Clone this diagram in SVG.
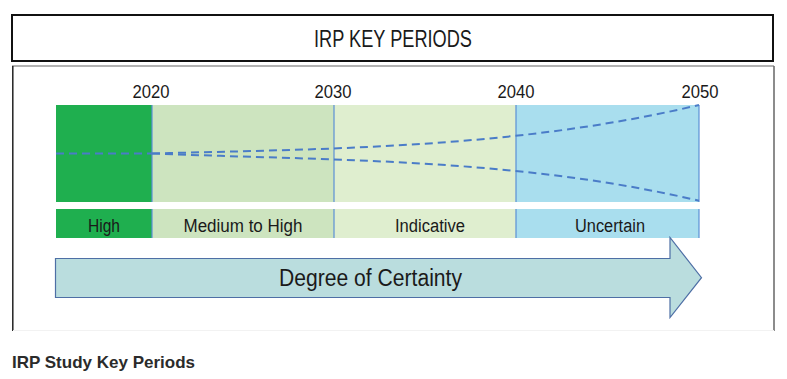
<svg xmlns="http://www.w3.org/2000/svg" width="787" height="379" viewBox="0 0 787 379">
<style>
text{font-family:"Liberation Sans",Arial,sans-serif;fill:#1a1a1a}
.yr{font-size:18px;text-anchor:middle}
.lbl{font-size:18px;text-anchor:middle}
.sep{stroke:#5B8FD6;stroke-width:1.2}
.dash{fill:none;stroke:#4A7CC8;stroke-width:2;stroke-dasharray:8 5}
</style>
<rect width="787" height="379" fill="#fff"/>
<g id="title">
<rect x="12" y="15" width="761" height="46" fill="#fff" stroke="#111" stroke-width="2"/>
<text x="393" y="47" font-size="24" text-anchor="middle" textLength="158" lengthAdjust="spacingAndGlyphs">IRP KEY PERIODS</text>
</g>
<g id="frame">
<line x1="12" y1="66" x2="774" y2="66" stroke="#999" stroke-width="1.5"/>
<line x1="12.8" y1="66" x2="12.8" y2="331" stroke="#222" stroke-width="1.5"/>
<line x1="774" y1="66" x2="774" y2="331" stroke="#666" stroke-width="1.5"/>
<line x1="13" y1="330.5" x2="774" y2="330.5" stroke="#f2f2f2" stroke-width="1"/>
</g>
<g id="years">
<text class="yr" x="151" y="98" textLength="37" lengthAdjust="spacingAndGlyphs">2020</text>
<text class="yr" x="333" y="98" textLength="37" lengthAdjust="spacingAndGlyphs">2030</text>
<text class="yr" x="516" y="98" textLength="37" lengthAdjust="spacingAndGlyphs">2040</text>
<text class="yr" x="700" y="98" textLength="37" lengthAdjust="spacingAndGlyphs">2050</text>
</g>
<g id="period-high">
<rect x="56" y="105" width="96" height="97" fill="#1FAF4F"/>
<rect x="56" y="209" width="96" height="29" fill="#1FAF4F"/>
<text class="lbl" x="104" y="232" textLength="32" lengthAdjust="spacingAndGlyphs">High</text>
</g>
<g id="period-medium">
<rect x="152" y="105" width="182" height="97" fill="#CDE4BF"/>
<rect x="152" y="209" width="182" height="29" fill="#CDE4BF"/>
<text class="lbl" x="243" y="232" textLength="119" lengthAdjust="spacingAndGlyphs">Medium to High</text>
</g>
<g id="period-indicative">
<rect x="334" y="105" width="182" height="97" fill="#DFEECF"/>
<rect x="334" y="209" width="182" height="29" fill="#DFEECF"/>
<text class="lbl" x="430" y="232" textLength="70" lengthAdjust="spacingAndGlyphs">Indicative</text>
</g>
<g id="period-uncertain">
<rect x="516" y="105" width="183" height="97" fill="#A9DEEE"/>
<rect x="516" y="209" width="183" height="29" fill="#A9DEEE"/>
<text class="lbl" x="610" y="232" textLength="70" lengthAdjust="spacingAndGlyphs">Uncertain</text>
</g>
<g id="connectors">
<line class="sep" x1="152" y1="105" x2="152" y2="202"/>
<line class="sep" x1="334" y1="105" x2="334" y2="202"/>
<line class="sep" x1="516" y1="105" x2="516" y2="202"/>
<line class="sep" x1="699" y1="105" x2="699" y2="202"/>
<line class="sep" x1="152" y1="209" x2="152" y2="238"/>
<line class="sep" x1="334" y1="209" x2="334" y2="238"/>
<line class="sep" x1="516" y1="209" x2="516" y2="238"/>
<line class="sep" x1="699" y1="209" x2="699" y2="238"/>
<path class="dash" d="M56,153.5 L152,153.5"/>
<path class="dash" d="M152,153.5 C334,148.8 516,148.2 699,105"/>
<path class="dash" d="M152,153.5 C334,160.8 516,157.8 699,200.7"/>
</g>
<g id="certainty-arrow">
<path d="M55.5,258.5 L670,258.5 L670,237.5 L701.5,277.7 L670,317.5 L670,297.5 L55.5,297.5 Z" fill="#BADDDE" stroke="#4E6FA5" stroke-width="1.2" stroke-linejoin="miter"/>
<text x="370.5" y="286" font-size="23" text-anchor="middle" textLength="183" lengthAdjust="spacingAndGlyphs">Degree of Certainty</text>
</g>
<g id="caption">
<text x="12" y="367.7" font-size="17" font-weight="bold" style="fill:#2b2b2b" textLength="183" lengthAdjust="spacingAndGlyphs">IRP Study Key Periods</text>
</g>
</svg>
